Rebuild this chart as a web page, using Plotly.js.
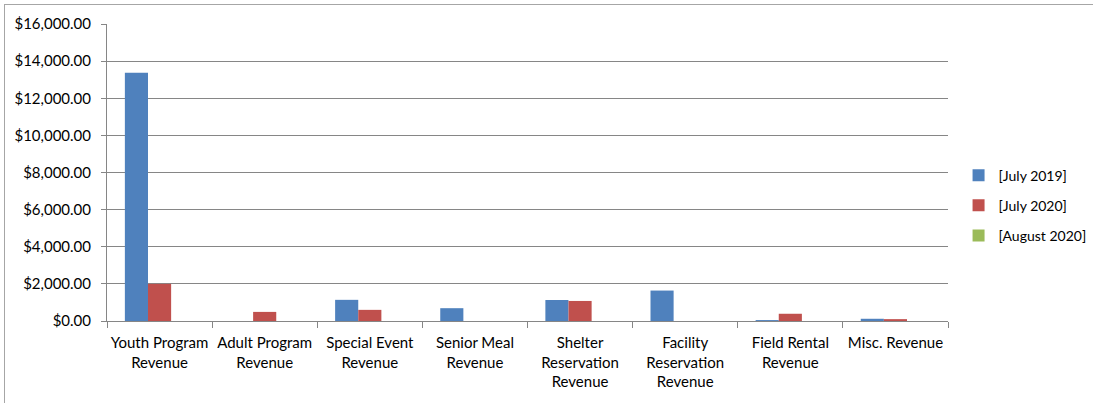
<!DOCTYPE html>
<html>
<head>
<meta charset="utf-8">
<script src="https://cdn.plot.ly/plotly-3.0.1.min.js"></script>
<style>
html,body{margin:0;padding:0;background:#fff;}
#frame{position:absolute;left:4px;top:4px;width:1100px;height:420px;border:1px solid #a6a6a6;box-sizing:border-box;}
#chart{position:absolute;left:0;top:0;width:1093px;height:403px;}
</style>
</head>
<body>
<div id="frame"></div>
<div id="chart"></div>
<script>
const categories = [
  "Youth Program<br>Revenue",
  "Adult Program<br>Revenue",
  "Special Event<br>Revenue",
  "Senior Meal<br>Revenue",
  "Shelter<br>Reservation<br>Revenue",
  "Facility<br>Reservation<br>Revenue",
  "Field Rental<br>Revenue",
  "Misc. Revenue"
];
const seriesNames = ["[July 2019]", "[July 2020]", "[August 2020]"];
const july2019 = [13370, 0, 1140, 690, 1130, 1640, 50, 120];
const july2020 = [2000, 490, 600, 0, 1080, 0, 390, 100];
const august2020 = [0, 0, 0, 0, 0, 0, 0, 0];
const colors = ["#4F81BD", "#C0504D", "#9BBB59"];
const yTicks = [0, 2000, 4000, 6000, 8000, 10000, 12000, 14000, 16000];

const series = [july2019, july2020, august2020];
const traces = series.map((vals, i) => ({
  type: "bar",
  name: seriesNames[i],
  legendgroup: "g" + i,
  x: categories,
  y: vals,
  marker: {color: colors[i], line: {width: 0}},
  hoverinfo: "none"
}));

const fam = "Lato, 'Open Sans', sans-serif";
const fs = 15;

const layout = {
  width: 1093, height: 403,
  margin: {l: 107, r: 145, t: 24, b: 82},
  paper_bgcolor: "rgba(0,0,0,0)",
  plot_bgcolor: "rgba(0,0,0,0)",
  font: {family: fam, size: fs, color: "#000"},
  barmode: "group",
  bargap: 0.34,
  bargroupgap: 0,
  showlegend: true,
  legend: {xref: "container", yref: "container",
           x: 0.877, y: 0.49, xanchor: "left", yanchor: "middle",
           font: {family: fam, size: 14, color: "#000"},
           traceorder: "grouped", tracegroupgap: 9, itemwidth: 30},
  xaxis: {
    type: "category",
    tickangle: 0,
    showline: true, linecolor: "#868686", linewidth: 1,
    ticks: "outside", tickson: "boundaries", ticklen: 6, tickcolor: "#868686",
    showgrid: false, tickfont: {family: fam, size: fs, color: "#000"},
    ticklabelstandoff: 8,
    automargin: false,
    fixedrange: true
  },
  yaxis: {
    range: [0, 16000],
    tickvals: yTicks,
    tickformat: "$,.2f",
    showline: true, linecolor: "#868686", linewidth: 1,
    ticks: "outside", ticklen: 5, tickcolor: "#868686",
    showgrid: true, gridcolor: "#868686", gridwidth: 1,
    zeroline: false,
    ticklabelstandoff: 7,
    automargin: false,
    tickfont: {family: fam, size: fs, color: "#000"},
    fixedrange: true
  }
};

Plotly.newPlot("chart", traces, layout, {staticPlot: true, displayModeBar: false});
</script>
</body>
</html>
